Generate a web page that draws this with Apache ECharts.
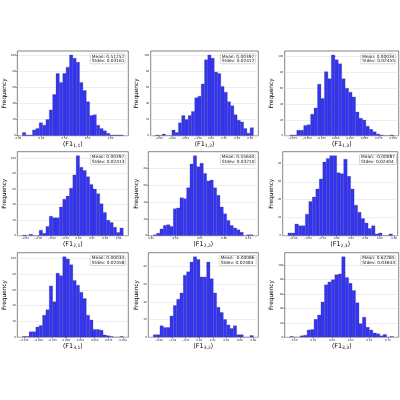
<!DOCTYPE html>
<html><head><meta charset="utf-8">
<script src="https://cdn.jsdelivr.net/npm/echarts@6/dist/echarts.min.js"></script>
<style>html,body{margin:0;padding:0;background:#fff}#c{width:400px;height:400px}</style>
</head><body><div id="c"></div>
<script>
// ---- data ----
const subscripts = ['1,1','1,2','1,3','2,1','2,2','2,3','3,1','3,2','3,3'];
const meanTexts  = ['0.51252','0.00397','0.00034','0.00397','0.55640','-0.00087','0.00034','-0.00086','0.62285'];
const stdevTexts = ['0.03161','0.02412','0.02455','0.02413','0.03210','0.02404','0.02458','0.02404','0.03643'];

const counts11 = [4,1,1,7,9,16,13,20,32,51,77,66,77,85,100,96,91,66,56,42,25,26,13,9,6,3,1,1,1,1];
const counts12 = [1,0,2,0,0,7,4,16,25,20,25,30,47,49,64,94,100,96,79,77,61,54,42,37,26,19,17,9,3,10];
const counts13 = [1,1,7,7,13,14,27,35,65,47,81,72,102,96,91,72,60,55,49,30,22,20,12,8,5,2,1,0,0,1];
const counts21 = [1,0,2,0,0,7,3,12,25,23,23,37,47,51,61,78,103,88,84,76,66,60,54,41,30,20,17,11,4,10];
const counts22 = [1,3,8,12,13,11,32,33,45,44,57,85,95,82,86,74,65,66,57,48,34,26,18,12,9,7,4,0,1,1];
const counts23 = [3,3,13,11,11,24,38,43,52,63,82,86,89,89,70,69,85,66,52,34,26,19,14,8,11,2,3,0,0,2];
const counts31 = [1,1,7,7,13,15,28,35,65,45,81,78,102,99,92,72,66,57,49,28,22,10,10,9,3,2,1,0,0,1];
const counts32 = [3,3,13,11,11,24,36,43,50,70,74,85,91,88,68,68,85,66,50,34,28,20,14,10,13,3,3,0,0,2];
const counts33 = [1,0,0,2,3,10,11,25,31,49,73,77,80,87,88,112,83,75,65,48,19,28,14,10,6,5,2,4,0,1];

// first and last bin edge of each histogram
const binEdges11 = [0.4088, 0.6275];
const binEdges12 = [-0.0850, 0.0650];
const binEdges13 = [-0.0794, 0.1006];
const binEdges21 = [-0.0837, 0.0670];
const binEdges22 = [0.4545, 0.6600];
const binEdges23 = [-0.0676, 0.0777];
const binEdges31 = [-0.0777, 0.1007];
const binEdges32 = [-0.0680, 0.0800];
const binEdges33 = [0.4870, 0.7650];

const xTickLabelsA = ['0.40','0.45','0.50','0.55','0.60'];
const xTickLabelsB = ['−0.08','−0.06','−0.04','−0.02','0.00','0.02','0.04','0.06'];
const xTickLabelsC = ['−0.075','−0.050','−0.025','0.000','0.025','0.050','0.075','0.100'];
const xTickLabelsD = ['0.45','0.50','0.55','0.60','0.65'];
const xTickLabelsE = ['−0.06','−0.04','−0.02','0.00','0.02','0.04','0.06','0.08'];
const xTickLabelsF = ['0.50','0.55','0.60','0.65','0.70','0.75'];
const yTickValues = [0,20,40,60,80,100];

const allCounts = [counts11,counts12,counts13,counts21,counts22,counts23,counts31,counts32,counts33];
const allEdges  = [binEdges11,binEdges12,binEdges13,binEdges21,binEdges22,binEdges23,binEdges31,binEdges32,binEdges33];
const allXTicks = [xTickLabelsA,xTickLabelsB,xTickLabelsC,xTickLabelsB,xTickLabelsD,xTickLabelsE,xTickLabelsC,xTickLabelsE,xTickLabelsF];

// ---- layout (pixels) ----
const boxes = [ // left, right, top, bottom
  [15,128.3,51,135.7],[150.7,258.3,51,135.7],[284.7,398.7,51,135.7],
  [15,128.3,151.7,235.7],[148.3,258.3,151.7,235.7],[282.7,398.7,151.7,235.7],
  [15,128.3,252.7,337.3],[148.3,258.3,252.7,337.3],[284.7,398.7,252.7,337.3]
];
const yNameGaps = [8,11,9.5,8.5,7,6,8,8,9.5];
const FONT = 'DejaVu Sans';

const parseTick = s => Number(s.replace('−','-'));

const grids=[], xAxes=[], yAxes=[], series=[], titles=[];
for (let i=0;i<9;i++){
  const b = boxes[i];
  const counts = allCounts[i];
  const [e0,e1] = allEdges[i];
  const n = counts.length, w = (e1-e0)/n;
  const span = e1-e0;
  const ymax = Math.max(...counts)*1.05;
  const tickLabels = allXTicks[i];
  const tickVals = tickLabels.map(parseTick);
  grids.push({left:b[0], top:b[2], width:b[1]-b[0], height:b[3]-b[2], show:true,
    borderColor:'#333', borderWidth:0.6, backgroundColor:'#fff'});
  xAxes.push({type:'value', gridIndex:i, min:e0-0.05*span, max:e1+0.05*span,
    axisLine:{show:false}, splitLine:{show:false},
    axisTick:{show:true, length:1.5, customValues:tickVals, lineStyle:{color:'#333', width:0.5}},
    axisLabel:{customValues:tickVals, fontSize:2.6, margin:1.2, color:'#222', fontFamily:FONT,
      formatter:(v)=>{let bi=0,bd=1e9; tickVals.forEach((t,k)=>{const d=Math.abs(t-v); if(d<bd){bd=d;bi=k;}}); return tickLabels[bi];}},
    name:'{a|⟨F1}{s|'+subscripts[i]+'}{a|⟩}', nameLocation:'middle', nameGap:3.5,
    nameTextStyle:{fontFamily:FONT, fontSize:6.5, color:'#000',
      rich:{a:{fontFamily:FONT,fontSize:6.5,color:'#000',verticalAlign:'top',lineHeight:8},
            s:{fontFamily:FONT,fontSize:4.5,color:'#000',verticalAlign:'bottom',lineHeight:8,padding:[3,0,0,0]}}}
  });
  const yv = yTickValues.filter(v=>v<=ymax);
  yAxes.push({type:'value', gridIndex:i, min:0, max:ymax, interval:20,
    axisLine:{show:false},
    splitLine:{show:true, lineStyle:{color:'#dcdcdc', width:0.5}},
    axisTick:{show:true, length:1.5, customValues:yv, lineStyle:{color:'#333', width:0.5}},
    axisLabel:{customValues:yv, fontSize:2.6, margin:1.5, color:'#222', fontFamily:FONT},
    name:'Frequency', nameLocation:'middle', nameGap:yNameGaps[i],
    nameTextStyle:{fontFamily:FONT, fontSize:5.8, color:'#000'}
  });
  const data = counts.map((c,k)=>[e0+k*w, e0+(k+1)*w, c]);
  series.push({type:'custom', xAxisIndex:i, yAxisIndex:i, clip:true,
    encode:{x:[0,1], y:2},
    data,
    renderItem:(params, api)=>{
      const p0 = api.coord([api.value(0), 0]);
      const p1 = api.coord([api.value(1), api.value(2)]);
      return {type:'rect', shape:{x:p0[0], y:p1[1], width:p1[0]-p0[0], height:p0[1]-p1[1]},
        style:{fill:'rgb(52,52,245)', stroke:'rgba(60,60,90,0.7)', lineWidth:0.35}};
    }
  });
  titles.push({text:'Mean: '+meanTexts[i]+'\nStdev: '+stdevTexts[i],
    right:400-b[1]+2.3, top:b[2]+2.5,
    padding:[0.8,1.5,0.5,1.5], backgroundColor:'#fff', borderColor:'#aaa', borderWidth:0.5, borderRadius:1,
    textStyle:{fontSize:4.3, lineHeight:4.5, fontWeight:'normal', color:'#111', fontFamily:FONT}});
}

const chart = echarts.init(document.getElementById('c'), null, {renderer:'canvas'});
chart.setOption({animation:false, backgroundColor:'#fff', title:titles, grid:grids, xAxis:xAxes, yAxis:yAxes, series});
</script>
</body></html>
